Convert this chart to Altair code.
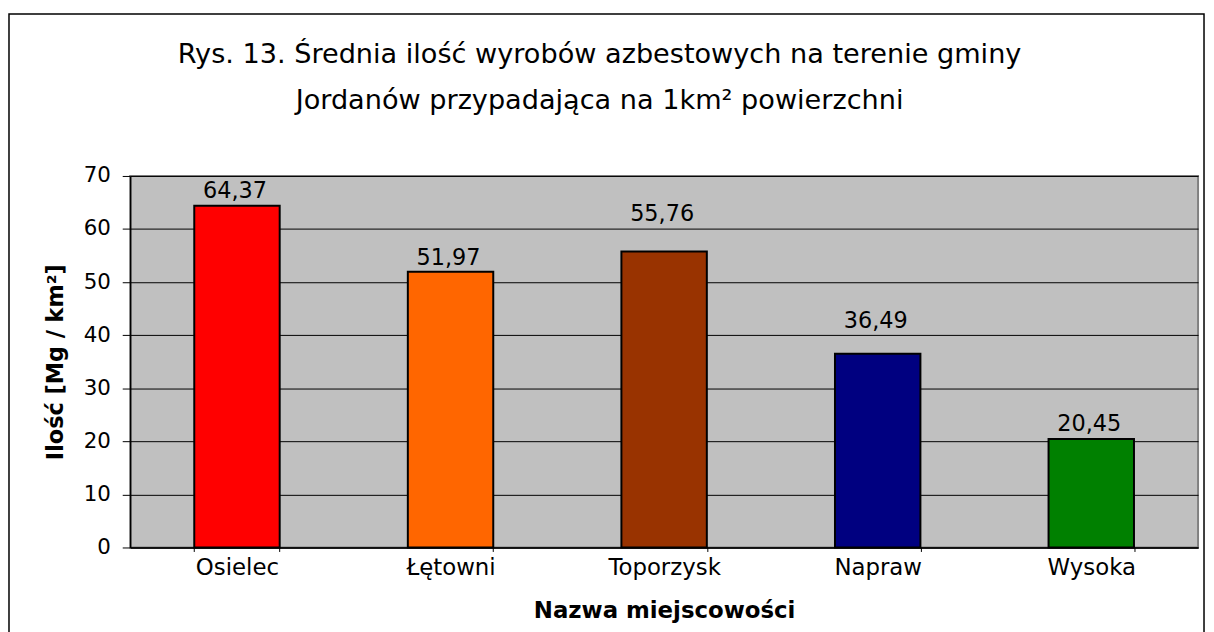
import altair as alt
import pandas as pd

categories = ["Osielec", "Łętowni", "Toporzysk", "Napraw", "Wysoka"]
values = [64.37, 51.97, 55.76, 36.49, 20.45]
value_labels = ["64,37", "51,97", "55,76", "36,49", "20,45"]
# height on the value axis where each data label sits
label_at = [65.8, 53.15, 61.45, 41.36, 21.95]
colors = ["#FF0000", "#FF6600", "#993300", "#000080", "#008000"]
y_ticks = [0, 10, 20, 30, 40, 50, 60, 70]
title_lines = [
    "Rys. 13. Średnia ilość wyrobów azbestowych na terenie gminy",
    "Jordanów przypadająca na 1km² powierzchni",
]
x_title = "Nazwa miejscowości"
y_title = "Ilość [Mg / km²]"

df = pd.DataFrame({
    "cat": categories,
    "val": values,
    "lab": value_labels,
    "laby": label_at,
    "color": colors,
})

FONT = "DejaVu Sans"

x_enc = alt.X(
    "cat:N",
    sort=categories,
    scale=alt.Scale(paddingInner=0.6, paddingOuter=0.3),
    axis=alt.Axis(
        title=x_title,
        labelAngle=0,
        tickBand="extent",
        tickSize=4,
        labelPadding=23,
        labelBaseline="alphabetic",
        labelFontSize=23,
        titleFontSize=23,
        titleY=70,
        titleBaseline="alphabetic",
        grid=False,
    ),
)

y_axis = alt.Axis(
    title=y_title,
    values=y_ticks,
    tickSize=8,
    labelPadding=12,
    labelFontSize=21.5,
    titleFontSize=22.5,
    titleX=-68,
    titleY=187,
    titleAngle=270,
    titleBaseline="alphabetic",
    titleAlign="center",
    grid=True,
)

y_scale = alt.Scale(domain=[0, 70], nice=False, zero=True)

base = alt.Chart(df)

bars = base.mark_bar(stroke="black", strokeWidth=2).encode(
    x=x_enc,
    y=alt.Y("val:Q", scale=y_scale, axis=y_axis),
    color=alt.Color("color:N", scale=None),
)

labels = base.mark_text(
    baseline="alphabetic", fontSize=22.5, font=FONT, color="black", dx=-2
).encode(
    x=x_enc,
    y=alt.Y("laby:Q", scale=y_scale, axis=y_axis),
    text="lab:N",
)

border = alt.Chart(pd.DataFrame({"k": [0]})).mark_rect(
    fillOpacity=0, stroke="black", strokeWidth=1.5
).encode(
    x=alt.value(-122), x2=alt.value(1081), y=alt.value(-163), y2=alt.value(465)
)

chart = alt.layer(border, bars, labels).properties(
    width=1075,
    height=374,
    autosize="none",
    padding={"left": 123, "top": 167, "right": 8, "bottom": 83},
    title=alt.TitleParams(
        text=title_lines,
        font=FONT,
        fontSize=27.3,
        fontWeight="normal",
        color="black",
        lineHeight=47,
        anchor="middle",
        baseline="alphabetic",
        dx=-65,
        offset=-124,
    ),
).configure_view(
    fill="#C0C0C0", stroke="#808080", strokeWidth=2
).configure_axis(
    labelFont=FONT,
    labelColor="black",
    titleFont=FONT,
    titleFontWeight="bold",
    titleColor="black",
    gridColor="black",
    gridOpacity=1,
    gridWidth=1,
    domainColor="black",
    domainWidth=1.5,
    tickColor="black",
    tickWidth=1,
)

chart.save("out.html", embed_options={"renderer": "svg", "actions": False})
